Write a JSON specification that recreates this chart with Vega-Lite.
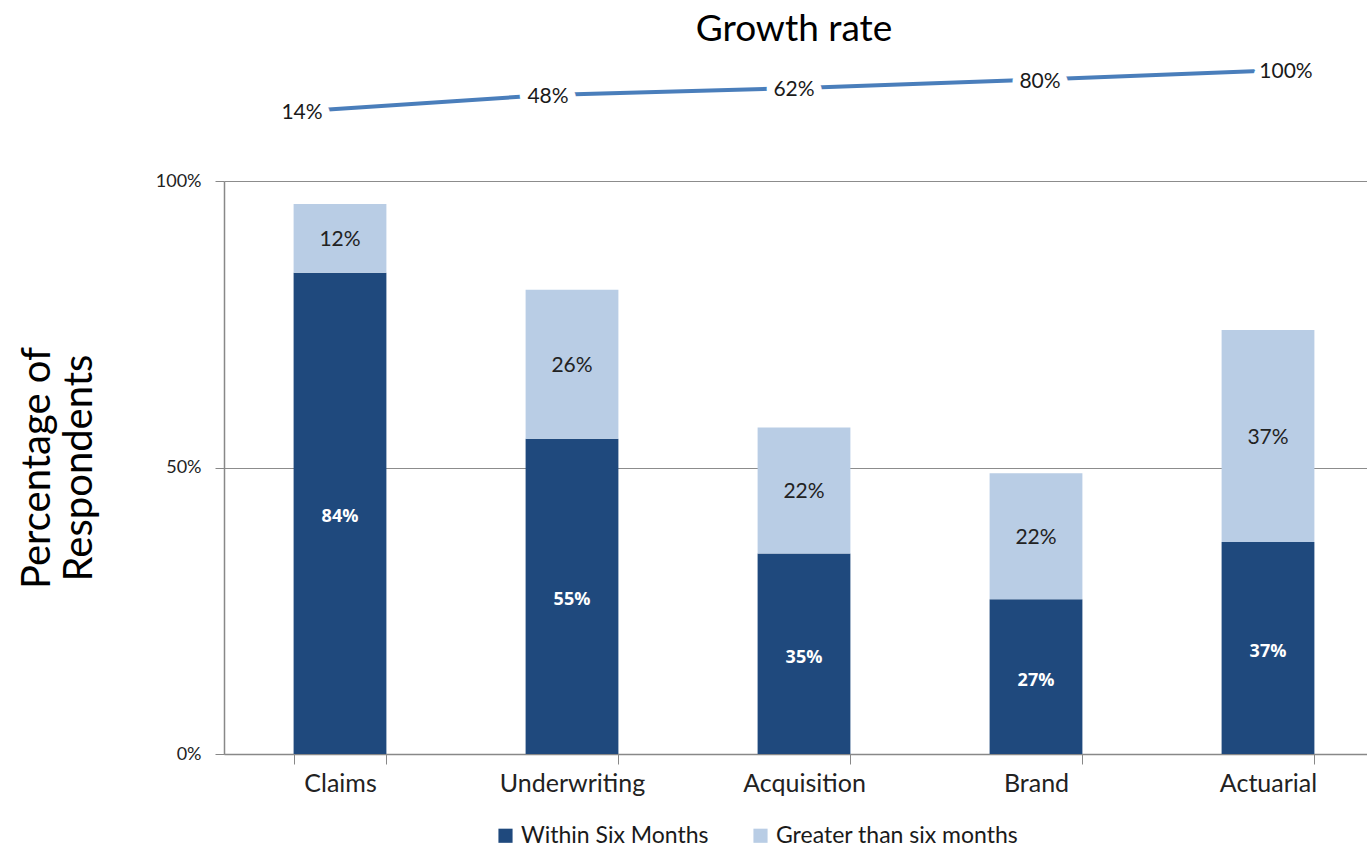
{
  "$schema": "https://vega.github.io/schema/vega-lite/v6.json",
  "padding": {"left": 17, "top": 11, "right": 0, "bottom": 0},
  "config": {
    "view": {"stroke": null},
    "font": "Lato",
    "concat": {"spacing": 48}
  },
  "datasets": {
    "growth": [
      {"cat": "Claims", "rate": 0.14},
      {"cat": "Underwriting", "rate": 0.48},
      {"cat": "Acquisition", "rate": 0.62},
      {"cat": "Brand", "rate": 0.80},
      {"cat": "Actuarial", "rate": 1.00}
    ],
    "resp": [
      {"cat": "Claims", "period": "Within Six Months", "seg": 1, "value": 0.84},
      {"cat": "Claims", "period": "Greater than six months", "seg": 2, "value": 0.12},
      {"cat": "Underwriting", "period": "Within Six Months", "seg": 1, "value": 0.55},
      {"cat": "Underwriting", "period": "Greater than six months", "seg": 2, "value": 0.26},
      {"cat": "Acquisition", "period": "Within Six Months", "seg": 1, "value": 0.35},
      {"cat": "Acquisition", "period": "Greater than six months", "seg": 2, "value": 0.22},
      {"cat": "Brand", "period": "Within Six Months", "seg": 1, "value": 0.27},
      {"cat": "Brand", "period": "Greater than six months", "seg": 2, "value": 0.22},
      {"cat": "Actuarial", "period": "Within Six Months", "seg": 1, "value": 0.37},
      {"cat": "Actuarial", "period": "Greater than six months", "seg": 2, "value": 0.37}
    ]
  },
  "vconcat": [
    {
      "width": 1140,
      "height": 48,
      "title": {"text": "Growth rate", "fontSize": 37, "fontWeight": "normal", "color": "#000000", "offset": 10, "font": "Lato"},
      "data": {"name": "growth"},
      "encoding": {
        "x": {"field": "cat", "type": "nominal", "sort": null, "scale": {"type": "point", "padding": 0.317}, "axis": null},
        "y": {"field": "rate", "type": "quantitative", "scale": {"domain": [0, 1]}, "axis": null}
      },
      "layer": [
        {"mark": {"type": "line", "color": "#4A7EBB", "strokeWidth": 4}},
        {"mark": {"type": "text", "fontSize": 21, "stroke": "white", "strokeWidth": 16, "strokeJoin": "round", "fill": "white"},
         "encoding": {"text": {"field": "rate", "type": "quantitative", "format": ".0%"}}},
        {"mark": {"type": "text", "fontSize": 21, "color": "#1a1a1a", "dy": 2},
         "encoding": {"text": {"field": "rate", "type": "quantitative", "format": ".0%"}}}
      ]
    },
    {
      "width": 1160,
      "height": 573,
      "data": {"name": "resp"},
      "transform": [
        {"stack": "value", "groupby": ["cat"], "sort": [{"field": "seg"}], "as": ["v0", "v1"]},
        {"calculate": "(datum.v0 + datum.v1) / 2", "as": "mid"}
      ],
      "encoding": {
        "x": {
          "field": "cat", "type": "nominal", "sort": null,
          "scale": {"paddingInner": 0.6, "paddingOuter": 0.3},
          "axis": {"title": null, "labelAngle": 0, "labelFontSize": 25, "labelColor": "#222222", "labelPadding": 7,
                   "tickBand": "extent", "tickSize": 10, "tickColor": "#888888", "domainColor": "#888888", "domainWidth": 1.5}
        }
      },
      "layer": [
        {
          "mark": {"type": "bar"},
          "encoding": {
            "y": {"field": "v0", "type": "quantitative", "scale": {"domain": [0, 1]},
                  "axis": {"values": [0, 0.5, 1], "format": ".0%", "grid": true, "gridColor": "#8c8c8c", "gridWidth": 1.2,
                           "domainColor": "#888888", "domainWidth": 1.5, "tickColor": "#888888", "tickSize": 9,
                           "labelFontSize": 18, "labelColor": "#222222", "labelPadding": 14,
                           "title": ["Percentage of", "Respondents"], "titleFontSize": 40, "titleFontWeight": "normal",
                           "titleColor": "#000000", "titleLineHeight": 42, "titlePadding": 56}},
            "y2": {"field": "v1"},
            "color": {
              "field": "period", "type": "nominal",
              "scale": {"domain": ["Within Six Months", "Greater than six months"], "range": ["#1F497D", "#B9CDE5"]},
              "legend": {"orient": "none", "legendX": 270, "legendY": 754, "direction": "horizontal", "title": null,
                         "labelFontSize": 23, "labelColor": "#1a1a1a", "labelLimit": 0, "symbolType": "square", "symbolSize": 200,
                         "symbolStrokeWidth": 0, "columnPadding": 40, "labelOffset": 4}
            }
          }
        },
        {
          "transform": [{"filter": "datum.seg == 1"}],
          "mark": {"type": "text", "fontSize": 18, "fontWeight": "bold", "font": "Open Sans", "color": "white", "dy": 4},
          "encoding": {
            "y": {"field": "mid", "type": "quantitative"},
            "text": {"field": "value", "type": "quantitative", "format": ".0%"}
          }
        },
        {
          "transform": [{"filter": "datum.seg == 2"}],
          "mark": {"type": "text", "fontSize": 21, "color": "#222222", "dy": 2},
          "encoding": {
            "y": {"field": "mid", "type": "quantitative"},
            "text": {"field": "value", "type": "quantitative", "format": ".0%"}
          }
        }
      ]
    }
  ],
  "resolve": {"scale": {"x": "independent", "y": "independent"}}
}
